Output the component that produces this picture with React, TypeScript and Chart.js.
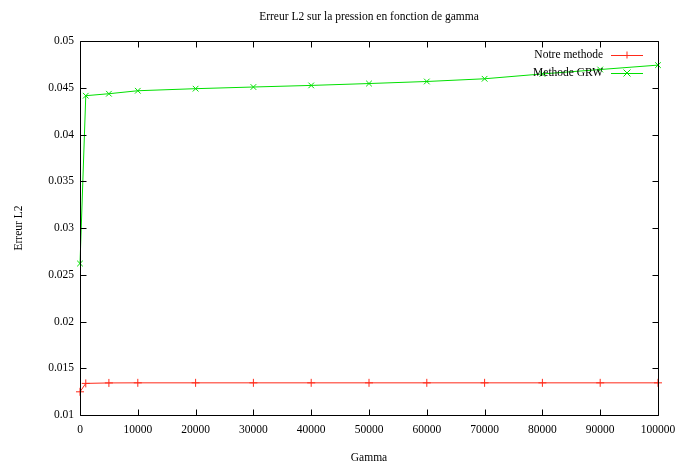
import React, { useEffect, useRef } from "react";
import { Chart, registerables } from "chart.js";

Chart.register(...registerables);

const chartTitle = "Erreur L2 sur la pression en fonction de gamma";
const xAxisTitle = "Gamma";
const yAxisTitle = "Erreur L2";

const notreX = [0, 1000, 5000, 10000, 20000, 30000, 40000, 50000, 60000, 70000, 80000, 90000, 100000];
const notreY = [0.01248, 0.01338, 0.01343, 0.01344, 0.01344, 0.01344, 0.01344, 0.01344, 0.01344, 0.01344, 0.01344, 0.01344, 0.01344];

const grwX = [0, 1000, 5000, 10000, 20000, 30000, 40000, 50000, 60000, 70000, 80000, 90000, 100000];
const grwY = [0.0262, 0.04415, 0.04436, 0.04468, 0.0449, 0.04508, 0.04525, 0.04545, 0.04567, 0.04596, 0.04648, 0.04695, 0.04742];

const xTickValues = [0, 10000, 20000, 30000, 40000, 50000, 60000, 70000, 80000, 90000, 100000];
const yTickLabels = ["0.01", "0.015", "0.02", "0.025", "0.03", "0.035", "0.04", "0.045", "0.05"];

const FONT = "'Liberation Serif', 'Times New Roman', serif";
const FS = 11.5;

export default function App() {
  const ref = useRef<HTMLCanvasElement | null>(null);

  useEffect(() => {
    document.body.style.margin = "0";
    document.body.style.overflow = "hidden";
    const canvas = ref.current;
    if (!canvas) return;

    const frame = {
      id: "gnuFrame",
      afterDraw(chart: any) {
        const { ctx, chartArea } = chart;
        const { left, right, top, bottom } = chartArea;
        const xs = chart.scales.x;
        const ys = chart.scales.y;
        ctx.save();
        ctx.strokeStyle = "#000";
        ctx.lineWidth = 1;
        const L = Math.round(left) + 0.5, R = Math.round(right) + 0.5;
        const T = Math.round(top) + 0.5, B = Math.round(bottom) + 0.5;
        ctx.beginPath();
        ctx.rect(L, T, R - L, B - T);
        const tl = 6;
        xs.ticks.forEach((t: any) => {
          const px = Math.round(xs.getPixelForValue(t.value)) + 0.5;
          ctx.moveTo(px, B); ctx.lineTo(px, B - tl);
          ctx.moveTo(px, T); ctx.lineTo(px, T + tl);
        });
        ys.ticks.forEach((t: any) => {
          const py = Math.round(ys.getPixelForValue(t.value)) + 0.5;
          ctx.moveTo(L, py); ctx.lineTo(L + tl, py);
          ctx.moveTo(R, py); ctx.lineTo(R - tl, py);
        });
        ctx.stroke();

        // title
        ctx.fillStyle = "#000";
        ctx.font = `${FS}px ${FONT}`;
        ctx.textAlign = "center";
        ctx.textBaseline = "middle";
        ctx.fillText(chartTitle, (left + right) / 2, 17);

        // legend (gnuplot style)
        const textRight = 603;
        const lineL = 611, lineR = 643;
        const rows = [55, 73];
        chart.data.datasets.forEach((ds: any, i: number) => {
          const y = rows[i];
          ctx.textAlign = "right";
          ctx.fillStyle = "#000";
          ctx.fillText(ds.label, textRight, y);
          ctx.strokeStyle = ds.borderColor;
          ctx.beginPath();
          ctx.moveTo(lineL, y + 0.5); ctx.lineTo(lineR, y + 0.5);
          const cx = (lineL + lineR) / 2, r = 3.5;
          if (ds.pointStyle === "cross") {
            ctx.moveTo(cx - r, y + 0.5); ctx.lineTo(cx + r, y + 0.5);
            ctx.moveTo(cx, y - r); ctx.lineTo(cx, y + r);
          } else {
            ctx.moveTo(cx - r, y - r); ctx.lineTo(cx + r, y + r);
            ctx.moveTo(cx - r, y + r); ctx.lineTo(cx + r, y - r);
          }
          ctx.stroke();
        });
        ctx.restore();
      },
    };

    const chart = new Chart(canvas, {
      type: "line",
      data: {
        datasets: [
          {
            label: "Notre methode",
            data: notreX.map((x, i) => ({ x, y: notreY[i] })),
            borderColor: "#ff2a1a",
            backgroundColor: "#ff2a1a",
            borderWidth: 1,
            pointStyle: "cross",
            pointRadius: 4,
            pointBorderWidth: 1,
            tension: 0,
            clip: 10,
          },
          {
            label: "Methode GRW",
            data: grwX.map((x, i) => ({ x, y: grwY[i] })),
            borderColor: "#00e000",
            backgroundColor: "#00e000",
            borderWidth: 1,
            pointStyle: "crossRot",
            pointRadius: 4,
            pointBorderWidth: 1,
            tension: 0,
            clip: 10,
          },
        ],
      },
      options: {
        animation: false,
        responsive: false,
        layout: { padding: { top: 41, right: 17, left: 0, bottom: 0 } },
        plugins: {
          legend: { display: false },
          title: { display: false },
          tooltip: { enabled: false },
        },
        scales: {
          x: {
            type: "linear",
            min: 0,
            max: 100000,
            afterFit: (s: any) => { s.height = 54; s.paddingLeft = 0; s.paddingRight = 0; },
            afterBuildTicks: (s: any) => { s.ticks = xTickValues.map((v) => ({ value: v })); },
            grid: { display: false, drawTicks: false },
            border: { display: false },
            ticks: {
              padding: 8,
              color: "#000",
              font: { family: FONT, size: FS },
              maxRotation: 0,
              autoSkip: false,
              callback: (v: any) => String(v),
            },
            title: {
              display: true,
              text: xAxisTitle,
              color: "#000",
              font: { family: FONT, size: FS },
              padding: { top: 0, bottom: 4 },
            },
          },
          y: {
            type: "linear",
            min: 0.01,
            max: 0.05,
            afterFit: (s: any) => { s.width = 80; s.paddingTop = 0; s.paddingBottom = 0; },
            afterBuildTicks: (s: any) => { s.ticks = yTickLabels.map((l) => ({ value: parseFloat(l) })); },
            grid: { display: false, drawTicks: false },
            border: { display: false },
            ticks: {
              padding: 6,
              color: "#000",
              font: { family: FONT, size: FS },
              autoSkip: false,
              callback: (_v: any, i: number) => yTickLabels[i],
            },
            title: {
              display: true,
              text: yAxisTitle,
              color: "#000",
              font: { family: FONT, size: FS },
              padding: { top: 12, bottom: 0 },
            },
          },
        },
      },
      plugins: [frame],
    } as any);

    return () => chart.destroy();
  }, []);

  return <canvas ref={ref} width={675} height={469} style={{ display: "block" }} />;
}
